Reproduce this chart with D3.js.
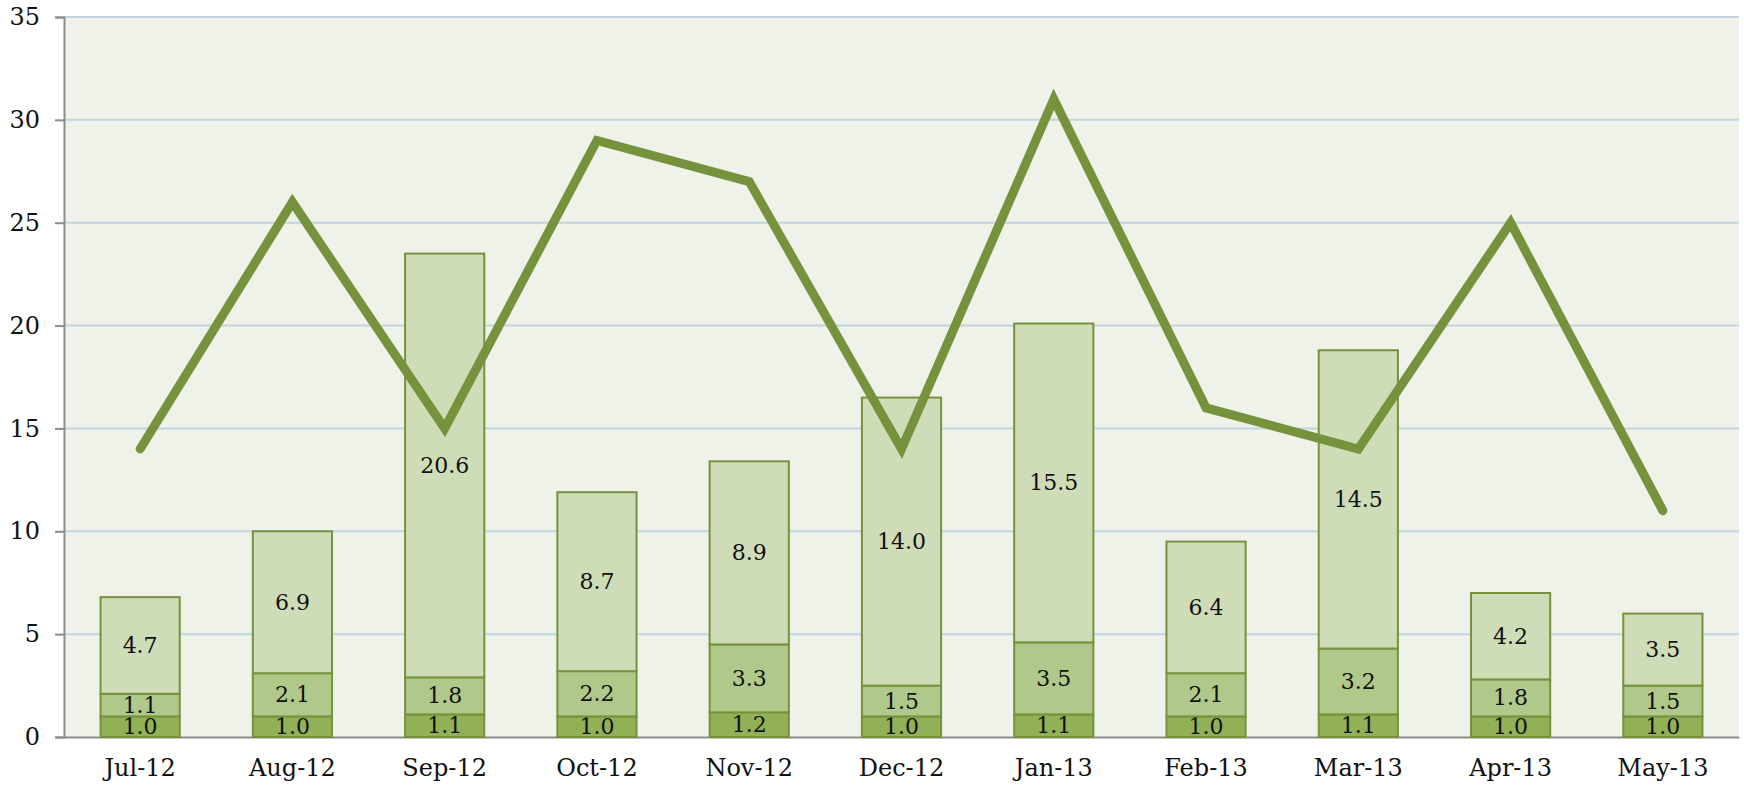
<!DOCTYPE html>
<html>
<head>
<meta charset="utf-8">
<script src="https://cdn.jsdelivr.net/npm/d3@7"></script>
<style>
    body { margin: 0; background: #fff; }
    svg text { font-family: "DejaVu Serif", serif; fill: #111; }
</style>
</head>
<body>
<div id="chart"></div>
<script>
// chart data
var months = ["Jul-12", "Aug-12", "Sep-12", "Oct-12", "Nov-12", "Dec-12", "Jan-13", "Feb-13", "Mar-13", "Apr-13", "May-13"];
var baseValues = [1.0, 1.0, 1.1, 1.0, 1.2, 1.0, 1.1, 1.0, 1.1, 1.0, 1.0];
var midValues = [1.1, 2.1, 1.8, 2.2, 3.3, 1.5, 3.5, 2.1, 3.2, 1.8, 1.5];
var topValues = [4.7, 6.9, 20.6, 8.7, 8.9, 14.0, 15.5, 6.4, 14.5, 4.2, 3.5];
var lineValues = [14, 26, 15, 29, 27, 14, 31, 16, 14, 25, 11];
var yTicks = [0, 5, 10, 15, 20, 25, 30, 35];

var seriesKeys = ["base", "mid", "top"];
var fills = { base: "#92b055", mid: "#b0c88a", top: "#cfdcb8" };

// rows for the stack layout
var rows = months.map(function (m, i) {
    return { month: m, base: baseValues[i], mid: midValues[i], top: topValues[i] };
});

var width = 1744, height = 785;
var margin = { top: 17, right: 5, bottom: 48, left: 64 };
var innerW = width - margin.left - margin.right,
    innerH = height - margin.top - margin.bottom;

var svg = d3.select("#chart").append("svg")
    .attr("width", width)
    .attr("height", height);

var g = svg.append("g")
    .attr("transform", "translate(" + margin.left + "," + margin.top + ")");

var x = d3.scaleBand().domain(months).range([0, innerW]).paddingInner(0.48).paddingOuter(0.24);
var y = d3.scaleLinear().domain([0, 35]).range([innerH, 0]);

// plot background
g.append("rect")
    .attr("width", innerW)
    .attr("height", innerH)
    .attr("fill", "#eff2e9");

// gridlines
g.selectAll("line.grid")
    .data(yTicks.filter(function (t) { return t > 0; }))
    .enter().append("line")
    .attr("class", "grid")
    .attr("x1", 0).attr("x2", innerW)
    .attr("y1", function (d) { return y(d); })
    .attr("y2", function (d) { return y(d); })
    .attr("stroke", "#c3d3df")
    .attr("stroke-width", 2);

// y axis
var yAxis = g.append("g")
    .call(d3.axisLeft(y).tickValues(yTicks).tickSize(9).tickPadding(15));
yAxis.select(".domain").attr("stroke", "#8c8c8c").attr("stroke-width", 2);
yAxis.selectAll(".tick line").attr("stroke", "#8c8c8c").attr("stroke-width", 2);
yAxis.selectAll("text").style("font-size", "24px").attr("fill", "#111");

// x axis (baseline + labels, no ticks)
var xAxis = g.append("g")
    .attr("transform", "translate(0," + innerH + ")")
    .call(d3.axisBottom(x).tickSize(0).tickPadding(22));
xAxis.select(".domain").attr("stroke", "#8c8c8c").attr("stroke-width", 2);
xAxis.selectAll("text").style("font-size", "24px").attr("fill", "#111");

// stacked bars
var stacked = d3.stack().keys(seriesKeys)(rows);

var layer = g.selectAll("g.layer")
    .data(stacked)
    .enter().append("g")
    .attr("class", "layer")
    .attr("fill", function (d) { return fills[d.key]; });

layer.selectAll("rect")
    .data(function (d) { return d; })
    .enter().append("rect")
    .attr("x", function (d) { return x(d.data.month); })
    .attr("y", function (d) { return y(d[1]); })
    .attr("width", x.bandwidth())
    .attr("height", function (d) { return y(d[0]) - y(d[1]); })
    .attr("stroke", "#76923c")
    .attr("stroke-width", 2);

// labels in the middle of each segment
layer.selectAll("text")
    .data(function (d) { return d; })
    .enter().append("text")
    .attr("x", function (d) { return x(d.data.month) + x.bandwidth() / 2; })
    .attr("y", function (d) { return (y(d[0]) + y(d[1])) / 2; })
    .attr("text-anchor", "middle")
    .attr("dominant-baseline", "central")
    .style("font-size", "22px")
    .text(function (d) { return (d[1] - d[0]).toFixed(1); });

// line series
var line = d3.line()
    .x(function (d, i) { return x(months[i]) + x.bandwidth() / 2; })
    .y(function (d) { return y(d); });

g.append("path")
    .datum(lineValues)
    .attr("d", line)
    .attr("fill", "none")
    .attr("stroke", "#76923c")
    .attr("stroke-width", 9)
    .attr("stroke-linejoin", "miter")
    .attr("stroke-linecap", "round");
</script>
</body>
</html>
